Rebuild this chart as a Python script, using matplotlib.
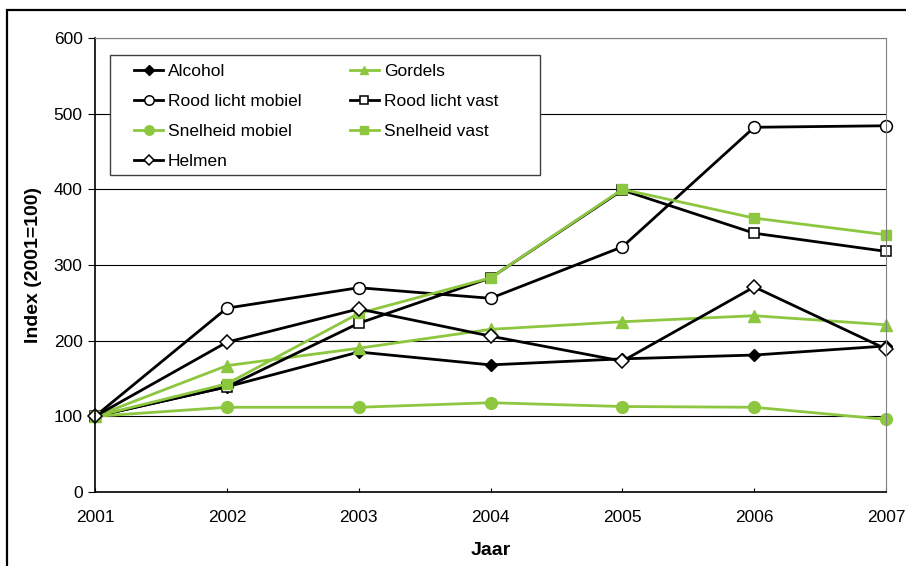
import numpy as np
import matplotlib.pyplot as plt
from matplotlib.patches import Rectangle

plt.rcParams['font.family'] = ['Liberation Sans', 'DejaVu Sans']

jaar = [2001, 2002, 2003, 2004, 2005, 2006, 2007]

alcohol = [100, 139, 185, 168, 176, 181, 193]
gordels = [100, 167, 190, 215, 225, 233, 221]
rood_mobiel = [100, 243, 270, 256, 324, 482, 484]
rood_vast = [100, 139, 223, 283, 399, 342, 318]
snel_mobiel = [100, 112, 112, 118, 113, 112, 96]
snel_vast = [100, 143, 236, 283, 400, 362, 340]
helmen = [100, 198, 242, 206, 173, 271, 189]

groen = '#8dc63f'

fig = plt.figure(figsize=(9.06, 5.66), dpi=100)
ax = fig.add_axes([0.1049, 0.1307, 0.8731, 0.8022])

# kader rond de hele grafiek
fig.patches.append(Rectangle((7 / 906, -0.05), 1.1, (556 / 566) + 0.05,
                             transform=fig.transFigure, fill=False,
                             edgecolor='black', linewidth=1.6))

lw = 2
lijnen = {}
lijnen['Alcohol'] = ax.plot(jaar, alcohol, color='black', lw=lw, marker='D', ms=6, mfc='black', mec='black')[0]
lijnen['Gordels'] = ax.plot(jaar, gordels, color=groen, lw=lw, marker='^', ms=8, mfc=groen, mec=groen)[0]
lijnen['Rood licht mobiel'] = ax.plot(jaar, rood_mobiel, color='black', lw=lw, marker='o', ms=8.5, mfc='white', mec='black', mew=1.1)[0]
lijnen['Rood licht vast'] = ax.plot(jaar, rood_vast, color='black', lw=lw, marker='s', ms=7.5, mfc='white', mec='black', mew=1.1)[0]
lijnen['Snelheid mobiel'] = ax.plot(jaar, snel_mobiel, color=groen, lw=lw, marker='o', ms=8.5, mfc=groen, mec=groen)[0]
lijnen['Snelheid vast'] = ax.plot(jaar, snel_vast, color=groen, lw=lw, marker='s', ms=7.5, mfc=groen, mec=groen)[0]
lijnen['Helmen'] = ax.plot(jaar, helmen, color='black', lw=lw, marker='D', ms=7, mfc='white', mec='black', mew=1.1)[0]
for l in lijnen.values():
    l.set_clip_on(False)

ax.set_xlim(2001, 2007)
ax.set_ylim(0, 600)
ax.set_xticks(jaar)
ax.set_yticks(range(0, 601, 100))
ax.yaxis.grid(True, color='black', lw=0.8)
ax.set_axisbelow(True)
ax.tick_params(labelsize=12.5, color='black')
ax.tick_params(axis='y', direction='out', length=5, pad=4)
ax.tick_params(axis='x', direction='in', length=3, pad=13)

for s in ['top', 'right']:
    ax.spines[s].set_color('#808080')
for s in ['left', 'bottom']:
    ax.spines[s].set_color('black')
    ax.spines[s].set_linewidth(1.2)

ax.set_xlabel('Jaar', fontsize=14, fontweight='bold', labelpad=12)
ax.set_ylabel('Index (2001=100)', fontsize=14, fontweight='bold', labelpad=8)

# legendakader apart getekend
ax.add_patch(Rectangle((0.019, 0.698), 0.5436, 0.2646, transform=ax.transAxes,
                       facecolor='white', edgecolor='#404040', lw=1, zorder=4))

# volgorde per rij zoals in het origineel (twee kolommen)
volgorde = ['Alcohol', 'Rood licht mobiel', 'Snelheid mobiel', 'Helmen',
            'Gordels', 'Rood licht vast', 'Snelheid vast']
leg = ax.legend([lijnen[k] for k in volgorde], volgorde, ncol=2,
                loc='upper left', bbox_to_anchor=(0.0493, 0.9427),
                fontsize=12.5, frameon=False, handlelength=1.67,
                columnspacing=2.76, labelspacing=0.85, borderpad=0,
                borderaxespad=0, handletextpad=0.29, markerscale=0.8)

fig.savefig('out.png', dpi=100)
